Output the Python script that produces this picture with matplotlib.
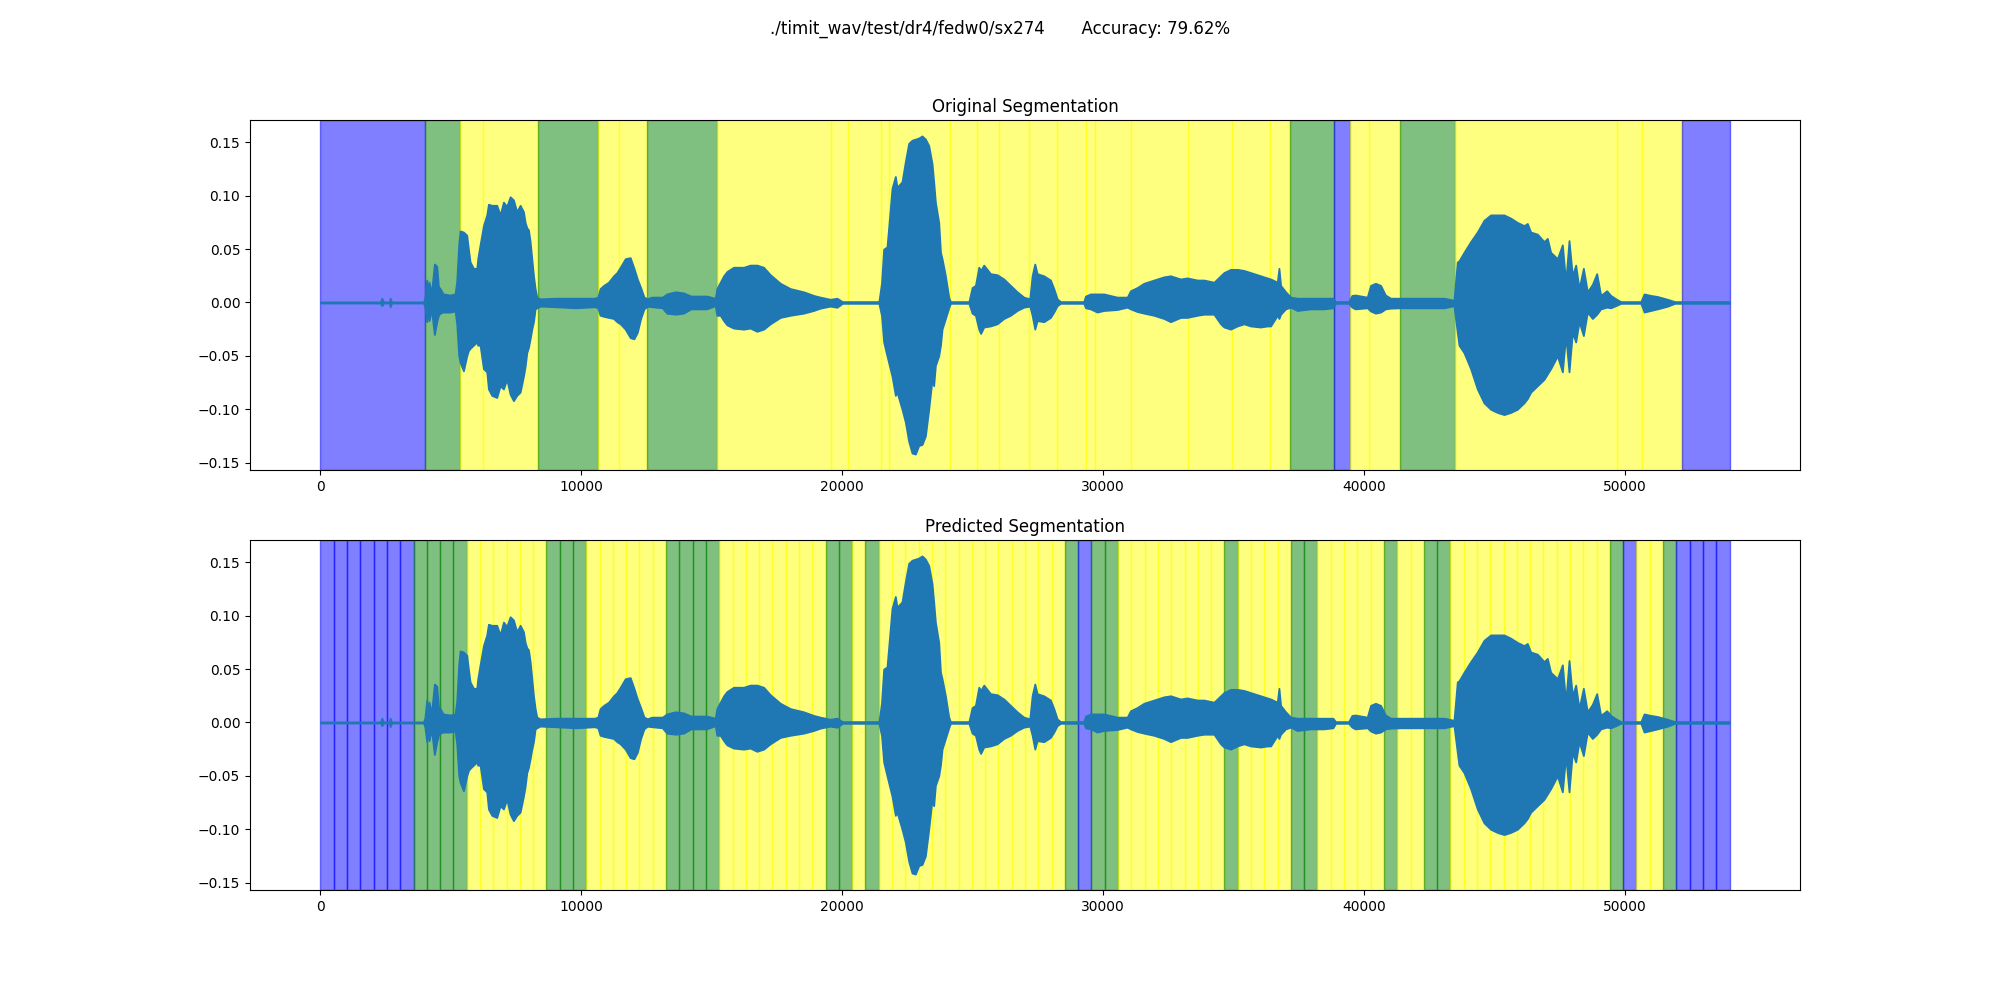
import numpy as np
import matplotlib
matplotlib.use("Agg")
import matplotlib.pyplot as plt

# ---------------- data ----------------
title_text = "./timit_wav/test/dr4/fedw0/sx274       Accuracy: 79.62%"
panel_titles = ["Original Segmentation", "Predicted Segmentation"]
n_samples = 54000

# class -> colour (S: silence, U: class 1, V: class 2)
class_colors = {"S": "blue", "U": "green", "V": "yellow"}

# original (reference) segmentation: boundaries in samples and labels
orig_edges = [0, 3990, 5330, 6210, 8350, 10630, 11460, 12530, 15180, 19550,
              20200, 21480, 21790, 24130, 25160, 26010, 27170, 28240, 29340,
              29690, 31070, 33250, 34930, 36380, 37150, 38835, 39450, 40195,
              41365, 43477, 49690, 50646, 52170, 54000]
orig_labels = ["S", "U", "V", "V", "U", "V", "V", "U", "V", "V",
               "V", "V", "V", "V", "V", "V", "V", "V", "V",
               "V", "V", "V", "V", "V", "U", "S", "V", "V",
               "U", "V", "V", "V", "S"]

# predicted segmentation: one label per fixed-length frame
pred_frames = ("SSSSSSS" "UUUU" "VVVVVV" "UUU" "VVVVVV" "UUUU" "VVVVVVVV" "UU"
               "V" "U" "VVVVVVVVVVVVVV" "U" "S" "UU" "VVVVVVVV" "U" "VVVV" "UU"
               "VVVVV" "U" "VV" "UU" "VVVVVVVVVVVV" "U" "S" "VV" "U" "SSSS")

# waveform envelope (sample index, upper and lower amplitude)
env_t = [0, 2300, 2350, 2420, 2640, 2670, 2720, 3950, 4000, 4073, 4120, 4162,
         4250, 4366, 4456, 4520, 4584, 4700, 4967, 5159, 5223, 5300, 5351,
         5479, 5606, 5670, 5734, 5862, 5990, 6028, 6117, 6245, 6373, 6437,
         6565, 6756, 6884, 7012, 7140, 7268, 7396, 7523, 7651, 7779, 7843,
         7907, 7971, 8035, 8099, 8163, 8227, 8291, 8418, 9000, 9800, 10500,
         10630, 10717, 10850, 11040, 11232, 11360, 11488, 11680, 11871, 12014,
         12142, 12270, 12398, 12526, 12700, 13100, 13270, 13600, 13910, 14200,
         14800, 15130, 15190, 15320, 15450, 15576, 15831, 16215, 16470, 16726,
         16982, 17237, 17621, 18004, 18515, 18898, 19154, 19537, 19793, 20000,
         21400, 21500, 21583, 21711, 21903, 22031, 22095, 22286, 22414, 22542,
         22670, 22798, 22926, 23054, 23182, 23310, 23437, 23500, 23565, 23693,
         23760, 23821, 23949, 24077, 24141, 24850, 24972, 25100, 25228, 25300,
         25419, 25675, 25931, 26186, 26442, 26698, 26953, 27183, 27273, 27375,
         27464, 27720, 27975, 28103, 28231, 28359, 29250, 29318, 29509, 29765,
         30021, 30532, 30916, 31043, 31299, 31555, 31938, 32321, 32577, 32960,
         33216, 33600, 33855, 34239, 34494, 34622, 34878, 35134, 35390, 35645,
         36028, 36284, 36412, 36668, 36731, 36795, 36987, 37179, 37431, 37943,
         38454, 38800, 38900, 39400, 39530, 39650, 40115, 40243, 40430, 40627,
         40810, 41010, 41393, 42288, 43055, 43438, 43566, 43630, 43822, 44077,
         44333, 44589, 44844, 45100, 45356, 45611, 45867, 46123, 46250, 46378,
         46634, 46890, 47017, 47145, 47401, 47593, 47720, 47848, 47976, 48104,
         48232, 48398, 48551, 48743, 48910, 49063, 49293, 49446, 49638, 49830,
         50600, 50725, 50980, 51236, 51620, 51900, 54000]
env_hi = [0.0005, 0.0005, 0.004, 0.0005, 0.0005, 0.004, 0.0005, 0.0005, 0.004, 0.021,
          0.006, 0.019, 0.008, 0.036, 0.034, 0.015, 0.013, 0.008, 0.007, 0.008,
          0.020, 0.055, 0.067, 0.066, 0.063, 0.050, 0.038, 0.032, 0.032, 0.041,
          0.054, 0.072, 0.082, 0.092, 0.091, 0.091, 0.082, 0.094, 0.090, 0.099,
          0.096, 0.085, 0.091, 0.085, 0.075, 0.070, 0.068, 0.057, 0.041, 0.025,
          0.013, 0.005, 0.0034, 0.004, 0.004, 0.004, 0.005, 0.013, 0.016, 0.019,
          0.025, 0.028, 0.033, 0.041, 0.042, 0.032, 0.022, 0.014, 0.005, 0.0035,
          0.005, 0.005, 0.008, 0.010, 0.009, 0.006, 0.006, 0.004, 0.013, 0.019,
          0.025, 0.029, 0.033, 0.033, 0.035, 0.035, 0.033, 0.026, 0.018, 0.013,
          0.010, 0.0066, 0.005, 0.003, 0.004, 0.0008, 0.0008, 0.018, 0.050,
          0.052, 0.107, 0.118, 0.108, 0.113, 0.132, 0.149, 0.152, 0.153, 0.154,
          0.156, 0.153, 0.147, 0.130, 0.113, 0.094, 0.075, 0.047, 0.041, 0.025,
          0.005, 0.0008, 0.0008, 0.014, 0.016, 0.033, 0.030, 0.035, 0.027, 0.026,
          0.022, 0.016, 0.010, 0.005, 0.0034, 0.025, 0.036, 0.027, 0.025, 0.021,
          0.013, 0.0034, 0.0008, 0.0008, 0.006, 0.008, 0.008, 0.008, 0.005,
          0.005, 0.011, 0.014, 0.018, 0.021, 0.024, 0.025, 0.022, 0.023, 0.021,
          0.021, 0.019, 0.025, 0.028, 0.031, 0.031, 0.030, 0.028, 0.025, 0.023,
          0.022, 0.019, 0.032, 0.016, 0.010, 0.005, 0.004, 0.004, 0.004, 0.004,
          0.0008, 0.0008, 0.0066, 0.007, 0.005, 0.016, 0.018, 0.016, 0.007,
          0.004, 0.004, 0.004, 0.004, 0.002, 0.038, 0.039, 0.047, 0.057, 0.066,
          0.077, 0.082, 0.082, 0.082, 0.079, 0.075, 0.072, 0.074, 0.066, 0.064,
          0.057, 0.060, 0.047, 0.041, 0.054, 0.019, 0.058, 0.025, 0.035, 0.013,
          0.032, 0.010, 0.017, 0.027, 0.0066, 0.011, 0.0066, 0.0035, 0.0008,
          0.0008, 0.008, 0.0066, 0.0056, 0.003, 0.0008, 0.0008]
env_lo = [-0.0005, -0.0005, -0.003, -0.0005, -0.0005, -0.004, -0.0005, -0.0005, -0.004,
          -0.018, -0.005, -0.017, -0.006, -0.030, -0.018, -0.012, -0.010, -0.009,
          -0.009, -0.008, -0.020, -0.050, -0.056, -0.064, -0.050, -0.045, -0.043,
          -0.040, -0.037, -0.040, -0.040, -0.062, -0.065, -0.081, -0.087, -0.089,
          -0.078, -0.081, -0.072, -0.086, -0.092, -0.087, -0.084, -0.069, -0.060,
          -0.047, -0.042, -0.034, -0.025, -0.018, -0.006, -0.005, -0.0034, -0.004,
          -0.005, -0.004, -0.005, -0.012, -0.013, -0.014, -0.015, -0.018, -0.020,
          -0.025, -0.033, -0.034, -0.028, -0.015, -0.006, -0.0035, -0.004, -0.005,
          -0.010, -0.011, -0.010, -0.006, -0.006, -0.003, -0.012, -0.012, -0.017,
          -0.021, -0.024, -0.025, -0.024, -0.027, -0.025, -0.020, -0.014, -0.012,
          -0.010, -0.0075, -0.0053, -0.0034, -0.0045, -0.0008, -0.0008, -0.012,
          -0.037, -0.050, -0.069, -0.087, -0.084, -0.100, -0.112, -0.130, -0.141,
          -0.142, -0.134, -0.133, -0.125, -0.100, -0.072, -0.078, -0.059, -0.050,
          -0.040, -0.025, -0.015, -0.005, -0.0008, -0.0008, -0.010, -0.012,
          -0.025, -0.029, -0.023, -0.022, -0.020, -0.015, -0.012, -0.0075,
          -0.0044, -0.0034, -0.012, -0.025, -0.017, -0.018, -0.014, -0.009,
          -0.003, -0.0008, -0.0008, -0.005, -0.006, -0.009, -0.0075, -0.0066,
          -0.0044, -0.006, -0.0085, -0.010, -0.012, -0.015, -0.018, -0.014,
          -0.014, -0.012, -0.011, -0.011, -0.020, -0.023, -0.025, -0.022, -0.020,
          -0.022, -0.023, -0.022, -0.022, -0.012, -0.015, -0.011, -0.006, -0.0044,
          -0.0075, -0.006, -0.006, -0.005, -0.0008, -0.0008, -0.0044, -0.006,
          -0.005, -0.008, -0.010, -0.009, -0.006, -0.0053, -0.005, -0.005, -0.005,
          -0.003, -0.028, -0.040, -0.047, -0.062, -0.081, -0.094, -0.100, -0.103,
          -0.105, -0.103, -0.100, -0.094, -0.090, -0.084, -0.078, -0.072, -0.067,
          -0.062, -0.050, -0.065, -0.031, -0.065, -0.028, -0.037, -0.018, -0.031,
          -0.009, -0.015, -0.011, -0.006, -0.0044, -0.005, -0.003, -0.0008,
          -0.0008, -0.009, -0.0075, -0.006, -0.0035, -0.0008, -0.0008]

# ---------------- plot ----------------
fig, axes = plt.subplots(2, 1, figsize=(20, 10), dpi=100)
fig.suptitle(title_text, fontsize=12)

t = np.array(env_t, dtype=float)
hi = np.array(env_hi)
lo = np.array(env_lo)

# original segmentation
ax = axes[0]
ax.fill_between(t, lo, hi, color="#1f77b4", linewidth=1.3, zorder=2)
for i, lab in enumerate(orig_labels):
    ax.axvspan(orig_edges[i], orig_edges[i + 1], color=class_colors[lab], alpha=0.5)
ax.set_title(panel_titles[0])

# predicted segmentation
ax = axes[1]
ax.fill_between(t, lo, hi, color="#1f77b4", linewidth=1.3, zorder=2)
frame_len = n_samples / len(pred_frames)
for i, lab in enumerate(pred_frames):
    ax.axvspan(i * frame_len, (i + 1) * frame_len, color=class_colors[lab], alpha=0.5)
ax.set_title(panel_titles[1])

fig.savefig("out.png")
